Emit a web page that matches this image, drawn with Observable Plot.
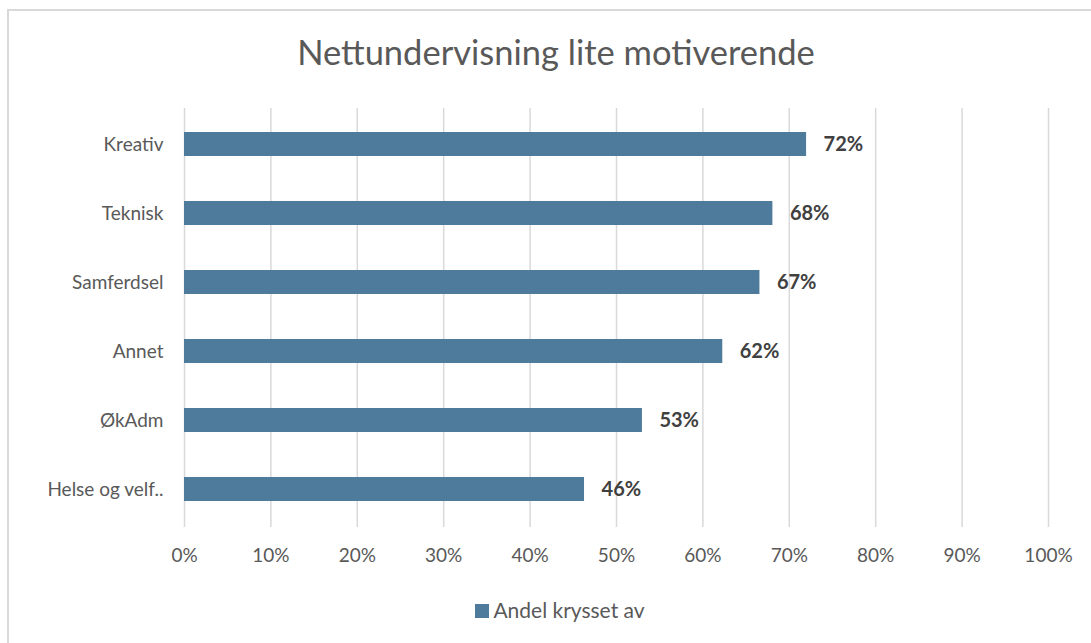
<!DOCTYPE html>
<html><head><meta charset="utf-8">
<script src="https://cdn.jsdelivr.net/npm/d3@7"></script>
<script src="https://cdn.jsdelivr.net/npm/@observablehq/plot@0.6"></script>
<style>
body{margin:0;background:#fff;font-family:Lato,"Open Sans",sans-serif;}
#wrap{position:relative;width:1091px;height:643px;overflow:hidden;}
#frame{position:absolute;left:7px;top:9px;width:1200px;height:700px;border:2px solid #d9d9d9;box-sizing:border-box;}
#title{position:absolute;left:0;top:31px;width:1112px;text-align:center;font-size:34.5px;color:#595959;}
#chart{position:absolute;left:0;top:80px;}
#legend{position:absolute;left:0;top:597px;width:1120px;text-align:center;font-size:21px;color:#595959;}
#legend .sw{display:inline-block;width:14px;height:14px;background:#4e7b9b;margin-right:4px;vertical-align:0px;}
</style></head><body>
<div id="wrap">
<div id="frame"></div>
<div id="title">Nettundervisning lite motiverende</div>
<div id="chart"></div>
<div id="legend"><span class="sw"></span>Andel krysset av</div>
</div>
<script>
const categories = ["Kreativ","Teknisk","Samferdsel","Annet","ØkAdm","Helse og velf.."];
const values = [0.72, 0.681, 0.666, 0.623, 0.53, 0.463];
const labels = ["72%","68%","67%","62%","53%","46%"];
const xTicks = [0,0.1,0.2,0.3,0.4,0.5,0.6,0.7,0.8,0.9,1.0];

const data = categories.map((c,i)=>({cat:c, v:values[i], label:labels[i]}));

const chart = Plot.plot({
  width:1091, height:500,
  marginTop:28, marginBottom:55, marginLeft:184, marginRight:43,
  style:{fontFamily:"Lato, 'Open Sans', sans-serif", fontSize:"19px", color:"#595959", background:"transparent"},
  x:{domain:[0,1], ticks:xTicks, tickFormat:d=>Math.round(d*100)+"%", label:null, tickSize:0, tickPadding:23},
  y:{domain:categories, label:null, tickSize:0, tickPadding:21, paddingInner:0.655, paddingOuter:0.3275},
  marks:[
    Plot.ruleX(xTicks,{stroke:"#d9d9d9", strokeWidth:1.5, insetBottom:-2}),
    Plot.barX(data,{y:"cat", x:"v", fill:"#4e7b9b"}),
    Plot.text(data,{y:"cat", x:"v", text:"label", dx:17, textAnchor:"start", fontWeight:"bold", fontSize:20, fill:"#404040"})
  ]
});
chart.querySelectorAll("g[aria-label='x-axis tick label'] text, g[aria-label='y-axis tick label'] text").forEach(t=>t.setAttribute("fill","#595959"));
document.getElementById("chart").appendChild(chart);
</script>
</body></html>
